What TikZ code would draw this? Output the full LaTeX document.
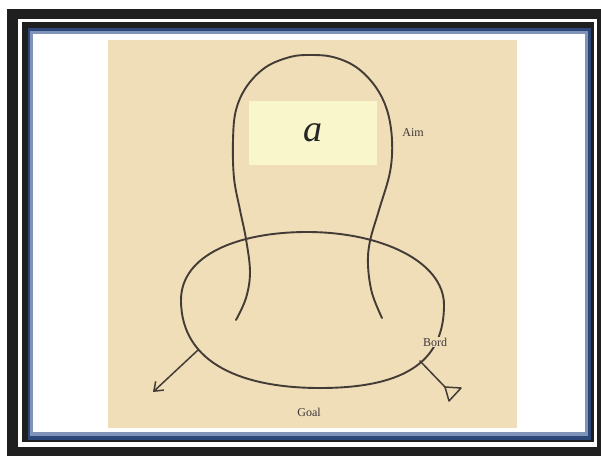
\documentclass[tikz,border=0pt]{standalone}
\usepackage{fontspec}
\setmainfont{Liberation Serif}
\usetikzlibrary{arrows.meta}
\definecolor{paper}{HTML}{F0DEB8}
\definecolor{boxy}{HTML}{F8F6CA}
\definecolor{ink}{HTML}{433C36}
\definecolor{labelink}{HTML}{3E3639}
\definecolor{frameblue}{HTML}{2D4878}
\definecolor{frameblue2}{HTML}{7F94B8}
\tikzset{
  curve/.style={draw=ink, line width=1.9pt, line cap=round, line join=round},
  tail/.style={draw=ink, line width=1.5pt, line cap=round, line join=round},
  lbl/.style={font=\fontsize{12}{12}\selectfont, text=labelink, inner sep=1pt},
}
\begin{document}
\begin{tikzpicture}[x=1pt,y=-1pt]
\useasboundingbox (0,0) rectangle (601,456);
% frame
\fill[white] (0,0) rectangle (601,456);
\fill[black!88] (7,9) rectangle (601,456);
\fill[white] (18,19) rectangle (597,447);
\fill[black!88] (22,22) rectangle (594,442);
\fill[frameblue] (28,28) rectangle (591,440);
\fill[frameblue2] (30,31) rectangle (588,436);
\fill[white] (33,34) rectangle (585,432);
% paper
\fill[paper] (108,40) rectangle (517,428);
% label box
\node[fill=boxy, minimum width=128pt, minimum height=64pt, inner sep=0pt,
      font=\fontsize{38}{38}\selectfont\itshape, text=black!85] (a) at (313,133) {a};
% oval
\coordinate (otop) at (307,232);
\coordinate (oright) at (444,305);
\coordinate (obot) at (320,388);
\coordinate (oleft) at (181,300);
\draw[curve] (otop) .. controls (382,232) and (444,262) .. (oright)
  .. controls (444,358) and (410,388) .. (obot)
  .. controls (245,388) and (181,365) .. (oleft)
  .. controls (181,255) and (238,232) .. cycle;
% loop
\draw[curve] plot[smooth, tension=0.6] coordinates {
 (236,320) (246,298) (250,272) (246,239) (240,210) (234,178) (233,140)
 (236,110) (247,86) (266,67) (290,57) (310,55) (333,57) (356,67) (375,86)
 (387,110) (392,140) (390,172) (379,210) (370,241) (368,265) (372,293) (382,318)};
% tails
\coordinate (L) at (198,350);
\coordinate (Ltip) at (153,392);
\draw[tail, -{Straight Barb[length=8pt,width=12pt]}] (L) -- (Ltip);
\coordinate (R) at (420,361);
\coordinate (Rv) at (445,387);
\coordinate (Ra) at (461,388);
\coordinate (Rb) at (449,401);
\draw[tail] (R) -- (Rv);
\draw[tail] (Rv) -- (Ra) -- (Rb) -- cycle;
% labels
\node[lbl] (aim) at (413,133) {Aim};
\node[lbl, fill=paper] (bord) at (435,342) {Bord};
\node[lbl] (goal) at (309,412) {Goal};
\end{tikzpicture}
\end{document}
